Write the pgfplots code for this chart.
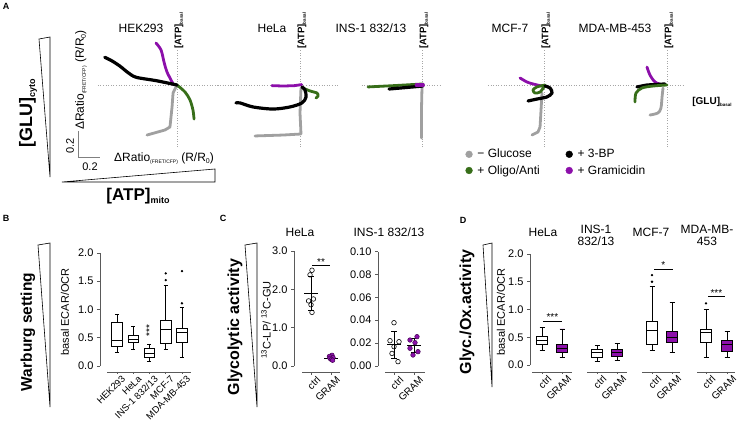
\documentclass[border=0pt]{standalone}
\usepackage{fontspec}
\setmainfont{Liberation Sans}
\usepackage{pgfplots}
\pgfplotsset{compat=1.18}
\usepgfplotslibrary{statistics}
\definecolor{cgray}{RGB}{160,160,160}
\definecolor{cgreen}{RGB}{55,110,25}
\definecolor{cpurple}{RGB}{140,15,170}
\definecolor{axgray}{RGB}{90,90,90}
\newcommand\fs[1]{\fontsize{#1}{#1}\selectfont}
\tikzset{cross/.style={draw=gray!70, dotted, line width=0.6pt},
  xt/.style={axgray, line width=0.7pt}}
\pgfplotsset{
  Apanel/.style={hide axis, x=110pt, y=130pt, ymin=-0.477, ymax=0.269, clip=false,
    anchor=south west, enlargelimits=false},
  Acurve/.style={line width=2.8pt, line cap=round, line join=round, forget plot, mark=none},
  stat/.style={separate axis lines, axis y line*=left, axis x line*=bottom,
    x axis line style={draw=none}, xtick style={draw=none},
    enlargelimits=false, clip=false, anchor=south west, tick align=outside,
    major tick length=3pt, y axis line style={axgray, line width=0.7pt},
    ytick style={axgray, line width=0.7pt}, tick label style={font=\fs{11}},
    /pgf/number format/assume math mode=true,
    xticklabel style={rotate=45, anchor=north east, font=\fs{10}, inner sep=1pt, yshift=-7pt},
    boxplot/draw direction=y},
  bx/.style={draw=black, line width=0.7pt, fill=white, solid, mark=*, mark size=0.8pt, mark options={fill=black, draw=black}},
  bxp/.style={draw=black, line width=0.7pt, fill=cpurple, solid, mark=*, mark size=0.8pt, mark options={fill=black, draw=black}},
}
\begin{document}
\begin{tikzpicture}
% ---------------- Panel A ----------------
\begin{axis}[Apanel, xmin=-0.72, xmax=0.5, at={(97.8pt,-147pt)}]
\draw[cross] (axis cs:-0.72,0) -- (axis cs:0.5,0);
\draw[cross] (axis cs:0,-0.477) -- (axis cs:0,0.269);
\addplot[Acurve, cgray] coordinates {(0,0) (-0.036,-0.062) (-0.045,-0.169) (-0.064,-0.323) (-0.109,-0.346) (-0.273,-0.385)};
\addplot[Acurve, cgreen, smooth, tension=0.5] coordinates {(0,0) (0.073,-0.054) (0.118,-0.115) (0.145,-0.192) (0.155,-0.262)};
\addplot[Acurve, cpurple, smooth, tension=0.5] coordinates {(-0.03,0) (-0.091,0.1) (-0.118,0.177) (-0.145,0.269) (-0.191,0.323)};
\addplot[Acurve, black, line width=3.2pt, smooth, tension=0.5] coordinates {(0,0) (-0.188,0.033) (-0.37,0.059) (-0.445,0.095) (-0.52,0.146) (-0.595,0.187) (-0.657,0.213)};
\draw[gray, line width=0.8pt] (axis cs:-0.9,-0.354) -- (axis cs:-0.9,-0.554) -- (axis cs:-0.7,-0.554);
\end{axis}
\begin{axis}[Apanel, xmin=-0.75, xmax=0.35, at={(217.5pt,-147pt)}]
\draw[cross] (axis cs:-0.75,0) -- (axis cs:0.35,0);
\draw[cross] (axis cs:0,-0.477) -- (axis cs:0,0.269);
\addplot[Acurve, cgray] coordinates {(0.009,-0.023) (0,-0.215) (0.009,-0.377) (-0.155,-0.385) (-0.409,-0.392)};
\addplot[Acurve, cpurple] coordinates {(-0.255,-0.005) (-0.15,-0.008) (-0.05,-0.005) (0.015,0.003)};
\addplot[Acurve, cgreen, smooth, tension=0.5] coordinates {(0.027,-0.023) (0.091,-0.046) (0.155,-0.062) (0.164,-0.085) (0.145,-0.1)};
\addplot[Acurve, black, line width=3.2pt, smooth, tension=0.5] coordinates {(0.018,-0.015) (0.045,-0.038) (0.055,-0.092) (0.018,-0.138) (-0.091,-0.169) (-0.245,-0.185) (-0.427,-0.169) (-0.545,-0.138) (-0.582,-0.138)};
\end{axis}
\begin{axis}[Apanel, xmin=-0.55, xmax=0.17, at={(361.5pt,-147pt)}]
\draw[cross] (axis cs:-0.55,0) -- (axis cs:0.17,0);
\draw[cross] (axis cs:0,-0.477) -- (axis cs:0,0.269);
\addplot[Acurve, cgray] coordinates {(0,-0.015) (-0.005,-0.2) (-0.005,-0.408)};
\addplot[Acurve, cgreen] coordinates {(-0.491,-0.015) (-0.26,-0.005) (0.009,0.008)};
\addplot[Acurve, black, line width=3.2pt] coordinates {(-0.3,-0.031) (-0.15,-0.02) (0.009,-0.008)};
\addplot[Acurve, cpurple, line width=3.8pt] coordinates {(-0.05,0) (0.009,0)};
\end{axis}
\begin{axis}[Apanel, xmin=-0.51, xmax=0.51, at={(487.9pt,-147pt)},
  legend columns=2, legend cell align=left,
  legend image code/.code={\draw[#1] plot coordinates {(0pt,0pt)};},
  legend style={draw=none, fill=none, font=\fs{12}, at={(-0.2,0.0)}, anchor=north west,
    row sep=2pt, inner sep=0pt,
    /tikz/every odd column/.append style={column sep=3pt},
    /tikz/every even column/.append style={column sep=24pt}}]
\draw[cross] (axis cs:-0.51,0) -- (axis cs:0.51,0);
\draw[cross] (axis cs:0,-0.477) -- (axis cs:0,0.269);
\addplot[Acurve, cgray] coordinates {(-0.018,-0.062) (-0.027,-0.192) (-0.036,-0.323) (-0.055,-0.362) (-0.109,-0.385)};
\addplot[Acurve, cpurple, smooth, tension=0.5] coordinates {(-0.218,0.054) (-0.155,0.023) (-0.1,0.008) (-0.018,-0.008)};
\addplot[Acurve, cgreen, smooth, tension=0.5] coordinates {(0.009,0) (-0.064,-0.015) (-0.1,-0.038) (-0.082,-0.062) (-0.036,-0.054) (0,-0.015)};
\addplot[Acurve, black, line width=3.2pt, smooth, tension=0.5] coordinates {(0.009,-0.008) (0.055,-0.023) (0.073,-0.062) (0.027,-0.092) (-0.064,-0.108) (-0.145,-0.123)};
\addlegendimage{only marks, mark=*, mark size=3.4pt, cgray}
\addlegendentry{− Glucose}
\addlegendimage{only marks, mark=*, mark size=3.4pt, black}
\addlegendentry{+ 3-BP}
\addlegendimage{only marks, mark=*, mark size=3.4pt, cgreen}
\addlegendentry{+ Oligo/Anti}
\addlegendimage{only marks, mark=*, mark size=3.4pt, cpurple}
\addlegendentry{+ Gramicidin}
\end{axis}
\begin{axis}[Apanel, xmin=-0.59, xmax=0.145, at={(602.1pt,-147pt)}]
\draw[cross] (axis cs:-0.59,0) -- (axis cs:0.145,0);
\draw[cross] (axis cs:0,-0.477) -- (axis cs:0,0.269);
\addplot[Acurve, cgray, smooth, tension=0.5] coordinates {(-0.036,-0.023) (-0.045,-0.092) (-0.055,-0.177) (-0.082,-0.215) (-0.155,-0.231)};
\addplot[Acurve, cpurple, smooth, tension=0.5] coordinates {(-0.182,0.138) (-0.155,0.077) (-0.109,0.023) (-0.045,0)};
\addplot[Acurve, black, line width=3.2pt] coordinates {(-0.273,-0.015) (-0.182,0) (-0.018,0.008)};
\addplot[Acurve, cgreen, smooth, tension=0.5] coordinates {(0,0) (-0.127,-0.008) (-0.227,-0.023) (-0.282,-0.062) (-0.291,-0.131)};
\end{axis}
% ---------------- Panel B ----------------
\begin{axis}[stat, x=16.25pt, y=56.5pt, xmin=-0.05, xmax=5.6, ymin=0, ymax=2,
  at={(99.9pt,-366pt)}, xtick={1,2,3,4,5},
  xticklabels={HEK293,HeLa,INS-1 832/13,MCF-7,MDA-MB-453},
  xticklabel style={font=\fs{9.5}, yshift=1pt},
  ytick={0,0.5,1,1.5,2},
  yticklabel style={/pgf/number format/fixed, /pgf/number format/fixed zerofill, /pgf/number format/precision=1}]
\draw[xt] (axis cs:0.4,-0.106) -- (axis cs:5.55,-0.106);
\draw[xt] (axis cs:1,-0.106) -- ++(0pt,-2.5pt);
\draw[xt] (axis cs:2,-0.106) -- ++(0pt,-2.5pt);
\draw[xt] (axis cs:3,-0.106) -- ++(0pt,-2.5pt);
\draw[xt] (axis cs:4,-0.106) -- ++(0pt,-2.5pt);
\draw[xt] (axis cs:5,-0.106) -- ++(0pt,-2.5pt);
\addplot[bx, boxplot prepared={draw position=1, lower whisker=0.25, lower quartile=0.34, median=0.46, upper quartile=0.78, upper whisker=0.92, box extend=0.66, whisker extend=0.25}] coordinates {};
\addplot[bx, boxplot prepared={draw position=2, lower whisker=0.30, lower quartile=0.41, median=0.48, upper quartile=0.55, upper whisker=0.70, box extend=0.66, whisker extend=0.25}] coordinates {};
\addplot[bx, boxplot prepared={draw position=3, lower whisker=0.09, lower quartile=0.16, median=0.23, upper quartile=0.32, upper whisker=0.39, box extend=0.66, whisker extend=0.25}] coordinates {};
\addplot[bx, boxplot prepared={draw position=4, lower whisker=0.30, lower quartile=0.40, median=0.65, upper quartile=0.81, upper whisker=1.43, box extend=0.66, whisker extend=0.25}] table[row sep=\\, y index=0] {data\\ 1.52\\ 1.64\\};
\addplot[bx, boxplot prepared={draw position=5, lower whisker=0.15, lower quartile=0.42, median=0.59, upper quartile=0.67, upper whisker=1.03, box extend=0.66, whisker extend=0.25}] table[row sep=\\, y index=0] {data\\ 1.11\\ 1.68\\};
\node[rotate=90, font=\fs{10}] at (axis cs:3,0.63) {***};
\end{axis}
% ---------------- Panel C ----------------
\begin{axis}[stat, x=20pt, y=38.3pt, xmin=0.15, xmax=2.6, ymin=0, ymax=3,
  at={(294pt,-366pt)}, xtick={1,2}, xticklabels={ctrl,GRAM}, ytick={0,1,2,3},
  yticklabel style={/pgf/number format/fixed, /pgf/number format/fixed zerofill, /pgf/number format/precision=1}]
\draw[xt] (axis cs:0.55,-0.157) -- (axis cs:2.45,-0.157);
\draw[xt] (axis cs:1,-0.157) -- ++(0pt,-2.5pt);
\draw[xt] (axis cs:2,-0.157) -- ++(0pt,-2.5pt);
\addplot[only marks, mark=o, mark size=2.3pt, black, line width=0.6pt] coordinates {(1.05,2.5) (0.95,2.38) (1.12,1.75) (0.88,1.7) (1.0,1.6) (1.05,1.4)};
\addplot[only marks, mark=*, mark size=2.3pt, mark options={fill=cpurple, draw=cpurple!50!black, line width=0.5pt}] coordinates {(2.05,0.28) (1.92,0.25) (2.1,0.22) (1.95,0.2) (2.02,0.17) (2.08,0.15)};
\addplot[black, line width=0.8pt, mark=none, error bars/.cd, y dir=both, y explicit, error bar style={line width=0.8pt}, error mark options={rotate=90, mark size=3pt, line width=0.8pt}] coordinates {(1,1.89) +- (0,0.445)};
\addplot[black, line width=0.8pt, mark=none] coordinates {(0.65,1.89) (1.35,1.89)};
\addplot[black, line width=0.8pt, mark=none, error bars/.cd, y dir=both, y explicit, error bar style={line width=0.8pt}, error mark options={rotate=90, mark size=3pt, line width=0.8pt}] coordinates {(2,0.21) +- (0,0.05)};
\addplot[black, line width=0.8pt, mark=none] coordinates {(1.65,0.21) (2.35,0.21)};
\draw[black, line width=0.7pt] (axis cs:1.05,2.62) -- (axis cs:1.95,2.62);
\node[font=\fs{10}, anchor=south, inner sep=1pt] at (axis cs:1.5,2.6) {**};
\end{axis}
\begin{axis}[stat, x=20pt, y=1145pt, xmin=0.2, xmax=2.6, ymin=0, ymax=0.1,
  at={(378pt,-366pt)}, xtick={1,2}, xticklabels={ctrl,GRAM}, ytick={0,0.02,0.04,0.06,0.08,0.1},
  yticklabel style={/pgf/number format/fixed, /pgf/number format/fixed zerofill, /pgf/number format/precision=2}]
\draw[xt] (axis cs:0.55,-0.00524) -- (axis cs:2.55,-0.00524);
\draw[xt] (axis cs:1,-0.00524) -- ++(0pt,-2.5pt);
\draw[xt] (axis cs:2,-0.00524) -- ++(0pt,-2.5pt);
\addplot[only marks, mark=o, mark size=2.3pt, black, line width=0.6pt] coordinates {(1.0,0.0378) (0.8,0.0221) (1.25,0.0212) (1.0,0.0169) (0.9,0.011) (1.2,0.0038)};
\addplot[only marks, mark=*, mark size=2.3pt, mark options={fill=cpurple, draw=cpurple!50!black, line width=0.5pt}] coordinates {(2.15,0.0256) (1.8,0.0227) (2.05,0.0204) (1.8,0.0155) (2.2,0.0125) (1.95,0.0096)};
\addplot[black, line width=0.8pt, mark=none, error bars/.cd, y dir=both, y explicit, error bar style={line width=0.8pt}, error mark options={rotate=90, mark size=3pt, line width=0.8pt}] coordinates {(1,0.0188) +- (0,0.0118)};
\addplot[black, line width=0.8pt, mark=none] coordinates {(0.65,0.0188) (1.35,0.0188)};
\addplot[black, line width=0.8pt, mark=none, error bars/.cd, y dir=both, y explicit, error bar style={line width=0.8pt}, error mark options={rotate=90, mark size=3pt, line width=0.8pt}] coordinates {(2,0.0177) +- (0,0.0062)};
\addplot[black, line width=0.8pt, mark=none] coordinates {(1.65,0.0177) (2.35,0.0177)};
\end{axis}
% ---------------- Panel D ----------------
\begin{axis}[stat, x=20pt, y=55.5pt, xmin=-0.6, xmax=9.8, ymin=0, ymax=2,
  at={(530pt,-365pt)}, xtick={0,1,2.75,3.75,5.5,6.5,8.2,9.25},
  xticklabels={ctrl,GRAM,ctrl,GRAM,ctrl,GRAM,ctrl,GRAM},
  ytick={0,0.5,1,1.5,2},
  yticklabel style={/pgf/number format/fixed, /pgf/number format/fixed zerofill, /pgf/number format/precision=1}]
\draw[xt] (axis cs:-0.5,-0.126) -- (axis cs:1.5,-0.126);
\draw[xt] (axis cs:2.25,-0.126) -- (axis cs:4.25,-0.126);
\draw[xt] (axis cs:5.0,-0.126) -- (axis cs:6.9,-0.126);
\draw[xt] (axis cs:7.75,-0.126) -- (axis cs:9.65,-0.126);
\draw[xt] (axis cs:0,-0.126) -- ++(0pt,-2.5pt);
\draw[xt] (axis cs:1,-0.126) -- ++(0pt,-2.5pt);
\draw[xt] (axis cs:2.75,-0.126) -- ++(0pt,-2.5pt);
\draw[xt] (axis cs:3.75,-0.126) -- ++(0pt,-2.5pt);
\draw[xt] (axis cs:5.5,-0.126) -- ++(0pt,-2.5pt);
\draw[xt] (axis cs:6.5,-0.126) -- ++(0pt,-2.5pt);
\draw[xt] (axis cs:8.2,-0.126) -- ++(0pt,-2.5pt);
\draw[xt] (axis cs:9.25,-0.126) -- ++(0pt,-2.5pt);
\addplot[bx, boxplot prepared={draw position=0, lower whisker=0.26, lower quartile=0.38, median=0.45, upper quartile=0.52, upper whisker=0.68, box extend=0.58, whisker extend=0.25}] coordinates {};
\addplot[bxp, boxplot prepared={draw position=1, lower whisker=0.14, lower quartile=0.22, median=0.30, upper quartile=0.38, upper whisker=0.65, box extend=0.58, whisker extend=0.25}] coordinates {};
\addplot[bx, boxplot prepared={draw position=2.75, lower whisker=0.07, lower quartile=0.14, median=0.22, upper quartile=0.29, upper whisker=0.36, box extend=0.58, whisker extend=0.25}] coordinates {};
\addplot[bxp, boxplot prepared={draw position=3.75, lower whisker=0.08, lower quartile=0.15, median=0.22, upper quartile=0.28, upper whisker=0.39, box extend=0.58, whisker extend=0.25}] coordinates {};
\addplot[bx, boxplot prepared={draw position=5.5, lower whisker=0.27, lower quartile=0.38, median=0.63, upper quartile=0.78, upper whisker=1.41, box extend=0.58, whisker extend=0.25}] table[row sep=\\, y index=0] {data\\ 1.5\\ 1.62\\};
\addplot[bxp, boxplot prepared={draw position=6.5, lower whisker=0.22, lower quartile=0.40, median=0.49, upper quartile=0.60, upper whisker=1.12, box extend=0.58, whisker extend=0.25}] coordinates {};
\addplot[bx, boxplot prepared={draw position=8.2, lower whisker=0.14, lower quartile=0.40, median=0.58, upper quartile=0.65, upper whisker=1.01, box extend=0.58, whisker extend=0.25}] table[row sep=\\, y index=0] {data\\ 1.11\\};
\addplot[bxp, boxplot prepared={draw position=9.25, lower whisker=0.14, lower quartile=0.25, median=0.37, upper quartile=0.45, upper whisker=0.61, box extend=0.58, whisker extend=0.25}] coordinates {};
\draw[black, line width=0.6pt] (axis cs:0.05,0.79) -- (axis cs:1,0.79);
\node[font=\fs{10}, anchor=south, inner sep=1pt] at (axis cs:0.52,0.78) {***};
\draw[black, line width=0.6pt] (axis cs:5.6,1.73) -- (axis cs:6.55,1.73);
\node[font=\fs{10}, anchor=south, inner sep=1pt] at (axis cs:6.07,1.72) {*};
\draw[black, line width=0.6pt] (axis cs:8.3,1.23) -- (axis cs:9.15,1.23);
\node[font=\fs{10}, anchor=south, inner sep=1pt] at (axis cs:8.72,1.22) {***};
\end{axis}
% ---------------- Text & decorations ----------------
\begin{scope}[x=1pt, y=-1pt]
\node[font=\bfseries\fs{9}] at (6,6) {A};
\node[font=\bfseries\fs{9}] at (6,218) {B};
\node[font=\bfseries\fs{9}] at (223,218) {C};
\node[font=\bfseries\fs{9}] at (463,220) {D};
\node[font=\fs{12}] at (141,28) {HEK293};
\node[font=\fs{12}] at (272,28) {HeLa};
\node[font=\fs{12}] at (371,28) {INS-1 832/13};
\node[font=\fs{12}] at (510,28) {MCF-7};
\node[font=\fs{12}] at (615,28) {MDA-MB-453};
\foreach \bx in {177,300,422,544,667}
  \node[rotate=90, anchor=west, inner sep=0pt] at (\bx+2,49) {\bfseries\fs{9.5}[ATP]\raisebox{-1.5pt}{\fs{4.5}basal}};
\node[inner sep=0pt] at (712,102) {\bfseries\fs{10}[GLU]\raisebox{-1.5pt}{\fs{4.5}basal}};
\node[rotate=90, inner sep=0pt] at (28,113) {\bfseries\fs{18}[GLU]\raisebox{-3pt}{\fs{9}cyto}};
\node[inner sep=0pt] at (138,196) {\bfseries\fs{17}[ATP]\raisebox{-3pt}{\fs{9}mito}};
\draw[line width=0.6pt] (39,39) -- (50,37) -- (50,177) -- cycle;
\draw[line width=0.6pt] (62,182) -- (215,169) -- (215,182) -- cycle;
\node[font=\fs{12}, inner sep=0pt] at (164,159) {ΔRatio\raisebox{-2pt}{\fs{5}(FRET/CFP)} (R/R\raisebox{-2pt}{\fs{7}0})};
\node[rotate=90, font=\fs{12}, inner sep=0pt] at (81,80) {ΔRatio\raisebox{-2pt}{\fs{5}(FRET/CFP)} (R/R\raisebox{-2pt}{\fs{7}0})};
\node[rotate=90, font=\fs{11}, inner sep=0pt] at (70,146) {0.2};
\node[font=\fs{11}, inner sep=0pt] at (90,167) {0.2};
% B
\node[rotate=90, font=\bfseries\fs{15.5}, inner sep=0pt] at (28,332) {Warburg setting};
\draw[line width=0.6pt] (38,245) -- (50,243) -- (50,407) -- cycle;
\node[rotate=90, font=\fs{11}, inner sep=0pt] at (65,312) {basal ECAR/OCR};
% C
\node[rotate=90, font=\bfseries\fs{16}, inner sep=0pt] at (235,327) {Glycolytic activity};
\draw[line width=0.6pt] (245,245) -- (257,243) -- (257,407) -- cycle;
\node[rotate=90, font=\fs{11}, inner sep=0pt] at (266,320) {\textsuperscript{13}C-LP/ \textsuperscript{13}C-GU};
\node[font=\fs{12}] at (300,232) {HeLa};
\node[font=\fs{12}] at (389,232) {INS-1 832/13};
% D
\node[rotate=90, font=\bfseries\fs{16}, inner sep=0pt] at (467,312) {Glyc./Ox.activity};
\draw[line width=0.6pt] (483,245) -- (492,243) -- (492,387) -- cycle;
\node[rotate=90, font=\fs{11}, inner sep=0pt] at (501,312) {basal ECAR/OCR};
\node[font=\fs{12}] at (543,232) {HeLa};
\node[font=\fs{12}, align=center, inner sep=0pt] at (596,235) {INS-1\\832/13};
\node[font=\fs{12}] at (651,232) {MCF-7};
\node[font=\fs{12}, align=center, inner sep=0pt] at (707,235) {MDA-MB-\\453};
\end{scope}
\pgfresetboundingbox
\path[use as bounding box] (0,0) rectangle (739pt,-423pt);
\end{tikzpicture}
\end{document}
